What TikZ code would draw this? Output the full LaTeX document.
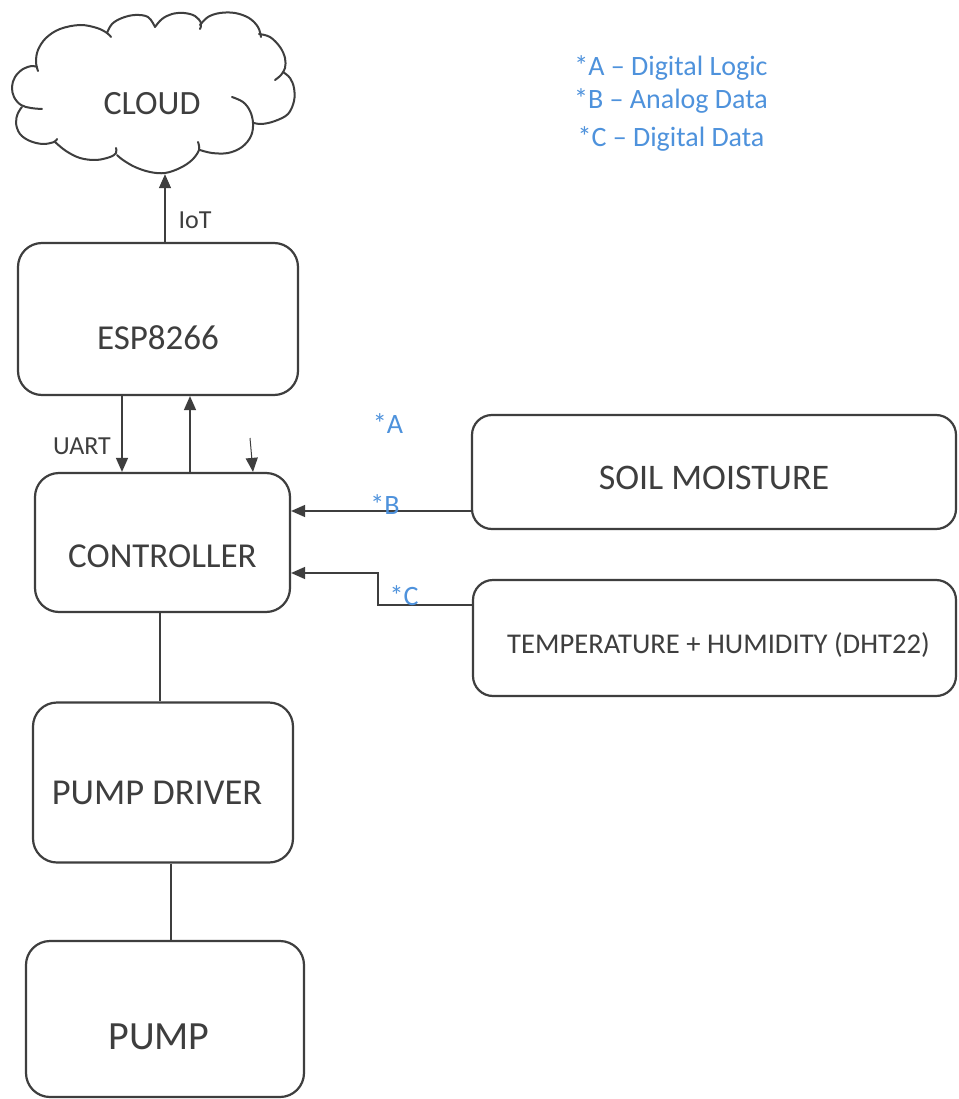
\documentclass[tikz,border=0pt]{standalone}
\usepackage{fontspec}
\setmainfont{Carlito}
\usetikzlibrary{arrows.meta}
\definecolor{ink}{RGB}{62,62,62}
\definecolor{note}{RGB}{78,146,220}

\begin{document}
\begin{tikzpicture}[x=1pt,y=-1pt,
  box/.style={draw=ink, line width=2.2pt, rounded corners=24pt, inner sep=0pt},
  big/.style={text=ink, inner sep=0pt, font=\fontsize{35}{40}\selectfont},
  mid/.style={text=ink, inner sep=0pt, font=\fontsize{28.6}{32}\selectfont},
  small/.style={text=ink, inner sep=0pt, font=\fontsize{26}{30}\selectfont},
  tag/.style={text=note, inner sep=0pt, font=\fontsize{28}{32}\selectfont},
  link/.style={draw=ink, line width=1.4pt},
  arr/.style={link, -{Triangle[length=14pt,width=12pt]}},
  puff/.style={draw=ink, line width=2pt, line cap=round, line join=round}
]
\useasboundingbox (0,0) rectangle (958,1099);
\fill[white] (0,0) rectangle (958,1099);

% cloud: an area node, outlined puff by puff
\node[inner sep=0pt, minimum width=283pt, minimum height=160pt] (cloud) at (153.5,94) {};
\draw[puff] plot[smooth, tension=0.6] coordinates {(42,109) (31,108) (21,105) (14,97) (12,87) (15,77) (23,69) (32,66) (37,67)};
\draw[puff] plot[smooth, tension=0.6] coordinates {(38,71) (36,62) (38,50) (46,38) (60,29) (80,25) (97,28) (107,33) (111,37)};
\draw[puff] plot[smooth, tension=0.6] coordinates {(107,33) (112,24) (122,18) (135,15) (148,17) (155,27)};
\draw[puff] plot[smooth, tension=0.6] coordinates {(155,27) (162,19) (172,14) (184,13) (195,16) (201,23) (200,29)};
\draw[puff] plot[smooth, tension=0.6] coordinates {(200,25) (208,17) (220,13) (235,13) (249,18) (258,27) (261,37)};
\draw[puff] plot[smooth, tension=0.6] coordinates {(259,34) (270,37) (280,47) (285,58) (285,68) (281,75) (275,80)};
\draw[puff] plot[smooth, tension=0.6] coordinates {(283,72) (290,78) (294,88) (294,101) (288,114) (275,121) (262,124) (254,123)};
\draw[puff] plot[smooth, tension=0.6] coordinates {(232,97) (243,102) (250,111) (253,123) (251,136) (242,147) (228,153) (212,153) (200,150)};
\draw[puff] plot[smooth, tension=0.6] coordinates {(198,142) (199,150) (192,160) (180,168) (165,173) (150,172) (135,167) (123,160) (117,155)};
\draw[puff] plot[smooth, tension=0.6] coordinates {(55,142) (66,151) (80,158) (96,160) (110,157) (116,153) (116,148)};
\draw[puff] plot[smooth, tension=0.6] coordinates {(57,139) (54,142) (43,144) (30,141) (20,134) (16,123) (18,113) (22,107)};
\node[big, font=\fontsize{34}{40}\selectfont] (cloudtxt) at (152,104) {CLOUD};

% blocks
\node[box, minimum width=280pt, minimum height=152pt] (esp) at (158,319) {};
\node[big] (esptxt) at ([yshift=-19pt]esp.center) {ESP8266};

\node[box, minimum width=255pt, minimum height=139pt] (ctrl) at (162.5,542.5) {};
\node[big] (ctrltxt) at ([yshift=-14pt]ctrl.center) {CONTROLLER};

\node[box, minimum width=260pt, minimum height=160pt] (drv) at (163,782.5) {};
\node[big, font=\fontsize{36.5}{42}\selectfont] (drvtxt) at ([xshift=-6pt,yshift=-10pt]drv.center) {PUMP DRIVER};

\node[box, minimum width=278pt, minimum height=156pt] (pump) at (165,1019) {};
\node[big, font=\fontsize{40}{46}\selectfont] (pumptxt) at ([xshift=-6pt,yshift=-18pt]pump.center) {PUMP};

\node[box, rounded corners=20pt, minimum width=484pt, minimum height=114pt] (soil) at (714,472) {};
\node[big, font=\fontsize{36}{42}\selectfont] (soiltxt) at ([yshift=-6pt]soil.center) {SOIL MOISTURE};

\node[box, rounded corners=20pt, minimum width=483pt, minimum height=116pt] (temp) at (714.5,638) {};
\node[mid] (temptxt) at ([xshift=4pt,yshift=-7pt]temp.center) {TEMPERATURE + HUMIDITY (DHT22)};

% helper positions for the connectors
\coordinate (xiot) at (165,0);
\coordinate (xuart) at (122,0);
\coordinate (xup) at (190,0);
\coordinate (xtick) at (253,0);
\coordinate (tick) at (250,438);
\coordinate (yb) at (0,511);
\coordinate (yc1) at (0,605);
\coordinate (yc2) at (0,573);
\coordinate (xc) at (378,0);
\coordinate (xl1) at (160,0);
\coordinate (xl2) at (171,0);

% connectors
\draw[arr] (xiot |- esp.north) -- (xiot |- cloud.south);
\draw[arr] (xuart |- esp.south) -- (xuart |- ctrl.north);
\draw[arr] (xup |- ctrl.north) -- (xup |- esp.south);
\draw[arr, line width=1pt] (tick) -- (xtick |- ctrl.north);
\draw[arr] (yb -| soil.west) -- (yb -| ctrl.east);
\draw[arr] (yc1 -| temp.west) -- (yc1 -| xc) -- (yc2 -| xc) -- (yc2 -| ctrl.east);
\draw[link] (xl1 |- ctrl.south) -- (xl1 |- drv.north);
\draw[link] (xl2 |- drv.south) -- (xl2 |- pump.north);

% connector labels
\node[small] (iot) at (195,220) {IoT};
\node[small] (uart) at (82,446) {UART};
\node[tag] (ta) at (388,424) {*A};
\node[tag] (tb) at (385,505) {*B};
\node[tag] (tc) at (404,596) {*C};

% key
\node[tag] (ka) at (671,68) {*A -- Digital Logic};
\node[tag] (kb) at (671,101) {*B -- Analog Data};
\node[tag] (kc) at (671,139) {*C -- Digital Data};
\end{tikzpicture}
\end{document}
